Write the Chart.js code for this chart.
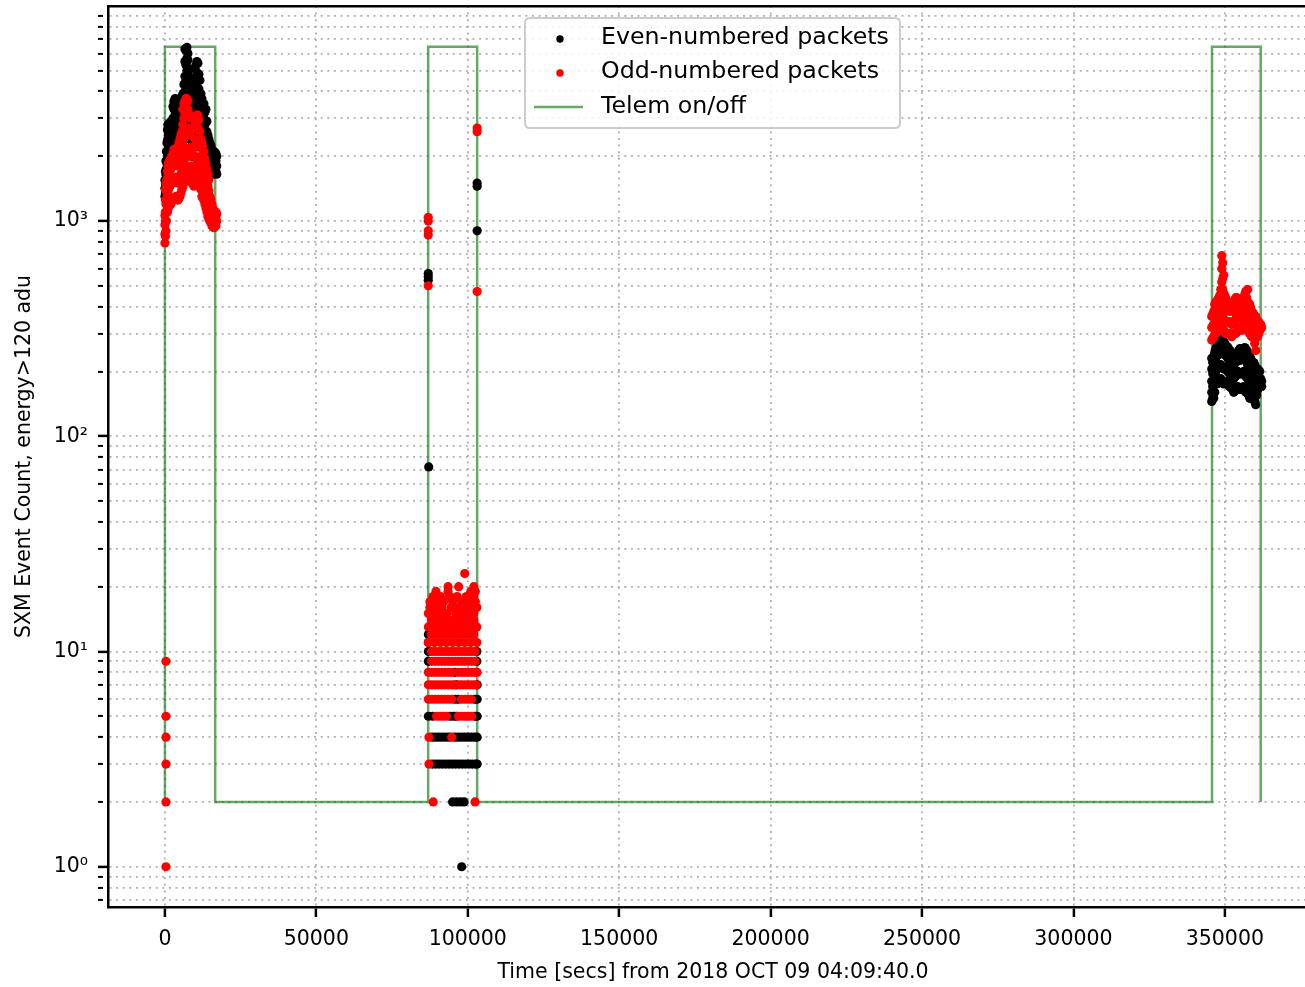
<!DOCTYPE html>
<html><head><meta charset="utf-8">
<script src="https://cdn.jsdelivr.net/npm/chart.js@4.4.1/dist/chart.umd.min.js"></script>
<style>html,body{margin:0;padding:0;background:#fff;overflow:hidden;width:1305px;height:987px}canvas{display:block}</style>
</head><body>
<canvas id="c" width="1305" height="987" style="width:1305px;height:987px"></canvas>
<script>
// ---------------- DATA ----------------
const xTitle = 'Time [secs] from 2018 OCT 09 04:09:40.0';
const yTitle = 'SXM Event Count, energy>120 adu';
const seriesLabels = ['Even-numbered packets', 'Odd-numbered packets', 'Telem on/off'];

const xTickValues = [0, 50000, 100000, 150000, 200000, 250000, 300000, 350000];
const yMajorTicks = [1, 10, 100, 1000];
const yMajorLabels = ['10⁰', '10¹', '10²', '10³'];
const yMinorTicks = [0.7, 0.8, 0.9, 2, 3, 4, 5, 6, 7, 8, 9, 20, 30, 40, 50, 60, 70, 80, 90,
  200, 300, 400, 500, 600, 700, 800, 900, 2000, 3000, 4000, 5000, 6000, 7000, 8000, 9000];

// Telemetry on/off step trace
const telemTime  = [0, 0, 16600, 16600, 86930, 86930, 103100, 103100, 345760, 345760, 361840, 361840];
const telemLevel = [2, 6450, 6450, 2, 2, 6450, 6450, 2, 2, 6450, 6450, 2];

// Even-numbered packets (black) [time, count]
const evenBurst1 = [
  [0,1300],[0,1420],[0,1550],[165,1350],[165,1500],[165,1700],
  [330,1450],[330,1650],[330,1900],[495,1500],[495,1750],[495,2100],
  [660,1550],[660,1850],[660,2300],[825,1650],[825,1950],[825,2350],[825,2650],
  [990,1700],[990,2000],[990,2400],[990,2800],[1155,1750],[1155,2100],[1155,2500],[1155,2800],
  [1320,1750],[1320,2200],[1320,2750],[1485,1800],[1485,2150],[1485,2550],[1485,2850],
  [1650,1800],[1650,2400],[1650,2750],[1980,1950],[1980,2300],[1980,2650],[1980,2900],
  [2310,2100],[2310,2500],[2310,2850],[2640,2200],[2640,2600],[2640,3000],[2640,3400],
  [2970,2300],[2970,2800],[2970,3300],[2970,3600],[3300,2350],[3300,2650],[3300,3100],[3300,3500],[3300,3700],
  [3630,2400],[3630,2900],[3630,3400],[3630,3650],[3960,2450],[3960,2750],[3960,3200],[3960,3600],
  [4290,2500],[4290,3000],[4290,3500],[4620,2550],[4620,2850],[4620,3300],[4620,3650],
  [4950,2600],[4950,3100],[4950,3550],[5280,2700],[5280,3000],[5280,3450],[5280,3750],
  [5610,2800],[5610,3300],[5610,3700],[5940,2900],[5940,3300],[5940,3900],
  [6270,3000],[6270,3600],[6270,4300],[6600,3100],[6600,3500],[6600,4000],[6600,4700],[6600,5500],[6600,6300],
  [6930,3200],[6930,3800],[6930,4500],[6930,5300],[6930,6200],
  [7260,3300],[7260,3700],[7260,4200],[7260,5000],[7260,5700],[7260,6400],
  [7590,3400],[7590,4000],[7590,4800],[7590,5600],[7590,6000],
  [7920,3300],[7920,3800],[7920,4400],[7920,5100],
  [8250,2400],[8250,3300],[8250,3900],[8250,4400],[8580,2200],[8580,2800],[8580,3500],[8580,4100],
  [8910,2000],[8910,2500],[8910,3100],[8910,3600],[8910,4000],
  [9240,2000],[9240,2400],[9240,2900],[9240,3500],[9240,4300],
  [9570,2000],[9570,2500],[9570,2900],[9570,3400],[9570,4000],[9570,4600],
  [9900,2300],[9900,2800],[9900,3300],[9900,3800],[9900,4500],[9900,5100],
  [10230,2800],[10230,3300],[10230,3900],[10230,4600],[10230,5300],
  [10560,2700],[10560,3100],[10560,3600],[10560,4200],[10560,4900],[10560,5500],
  [10890,2700],[10890,3200],[10890,3800],[10890,4500],[10890,5400],
  [11220,2600],[11220,3000],[11220,3500],[11220,4100],[11220,4800],
  [11550,2500],[11550,3000],[11550,3600],[11550,4500],[11880,2400],[11880,2800],[11880,3300],[11880,3900],
  [12210,2300],[12210,2800],[12210,3300],[12210,3700],[12540,2200],[12540,2600],[12540,3000],[12540,3400],
  [12870,2100],[12870,2500],[12870,3000],[12870,3500],[13200,2050],[13200,2400],[13200,2800],[13200,3200],
  [13530,2000],[13530,2400],[13530,2900],[13530,3300],[13860,1950],[13860,2250],[13860,2600],[13860,2900],
  [14190,1900],[14190,2200],[14190,2500],[14520,1850],[14520,2100],[14520,2400],
  [14850,1800],[14850,2050],[14850,2300],[15180,1750],[15180,2000],[15180,2250],
  [15510,1700],[15510,1950],[15510,2150],[15840,1680],[15840,1900],[15840,2120],
  [16180,1650],[16180,1850],[16180,2100],[16510,1680],[16510,1880],[16510,2080],
  [16840,1700],[16840,1900],[16840,2050],[17100,1650],[17100,1800],[17100,2000]
];
const evenBurst2 = [
  [86950,570],[86950,550],[86950,530],[87100,72],[103100,1500],[103100,1450],[103100,900],
  [98000,1],
  [95000,2],[96300,2],[97600,2],[98800,2],
  [88300,3],[89400,3],[90500,3],[91600,3],[92700,3],[93800,3],[94900,3],[96000,3],[97100,3],
  [98200,3],[99300,3],[100400,3],[101500,3],[102600,3],[103100,3],
  [88300,4],[89400,4],[90500,4],[91600,4],[92700,4],[93800,4],[95700,4],[96800,4],[97900,4],
  [99000,4],[100100,4],[101200,4],[102300,4],[103100,4],
  [87000,5],[88400,5],[94200,5],[95300,5],[96200,5],[102400,5],[103100,5],
  [95800,6],[96900,6],[102300,6],[103100,6],
  [96300,7],[103100,7],[95800,8],
  [87000,9],[103000,9],[87000,10],[103000,10],[87000,11],[87000,12]
];
const evenBurst3 = [
  [345670,145],[345670,160],[345670,180],[345670,205],[345670,230],
  [346000,150],[346000,170],[346000,195],[346000,220],
  [346330,150],[346330,175],[346330,200],[346330,235],
  [346660,160],[346660,185],[346660,215],[346660,245],
  [347000,175],[347000,200],[347000,230],[347000,255],
  [347330,175],[347330,205],[347330,235],[347330,260],
  [347660,180],[347660,210],[347660,240],[347660,265],
  [347990,180],[347990,210],[347990,245],[347990,270],
  [348320,185],[348320,215],[348320,250],[348320,270],
  [348650,185],[348650,215],[348650,250],[348650,280],
  [348980,180],[348980,210],[348980,245],[348980,285],
  [349310,178],[349310,208],[349310,242],[349310,280],
  [349640,175],[349640,205],[349640,240],[349640,275],
  [349970,178],[349970,208],[349970,242],[349970,270],
  [350300,180],[350300,210],[350300,245],
  [350630,178],[350630,205],[350630,235],[350630,255],
  [350960,175],[350960,200],[350960,230],[350960,260],
  [351290,172],[351290,198],[351290,228],[351290,255],
  [351620,170],[351620,195],[351620,225],[351620,250],
  [351950,168],[351950,195],[351950,225],[351950,248],
  [352280,170],[352280,200],[352280,230],
  [352610,165],[352610,192],[352610,222],[352610,235],
  [352940,160],[352940,185],[352940,215],[352940,240],
  [353270,162],[353270,188],[353270,218],[353270,238],
  [353600,165],[353600,190],[353600,220],
  [353930,165],[353930,195],[353930,225],
  [354260,170],[354260,200],[354260,235],
  [354590,168],[354590,198],[354590,230],[354590,250],
  [354920,165],[354920,195],[354920,225],[354920,255],
  [355250,165],[355250,195],[355250,228],[355250,252],
  [355580,165],[355580,195],[355580,230],
  [355910,168],[355910,198],[355910,232],[355910,255],
  [356240,170],[356240,200],[356240,235],[356240,255],
  [356570,165],[356570,195],[356570,228],[356570,258],
  [356900,160],[356900,190],[356900,225],[356900,255],
  [357230,160],[357230,188],[357230,220],[357230,250],
  [357560,160],[357560,185],[357560,215],[357560,245],
  [357890,155],[357890,180],[357890,210],[357890,240],
  [358220,150],[358220,175],[358220,205],[358220,235],
  [358550,152],[358550,178],[358550,208],[358550,230],
  [358880,155],[358880,180],[358880,210],
  [359210,152],[359210,175],[359210,200],[359210,215],
  [359540,150],[359540,170],[359540,195],[359540,220],
  [359870,145],[359870,168],[359870,192],[359870,215],
  [360200,140],[360200,165],[360200,190],
  [360530,155],[360530,175],[360530,198],
  [360860,165],[360860,185],[360860,205],
  [361190,168],[361190,185],[361190,202],
  [361520,170],[361520,185],[361520,200],
  [361850,170],[361850,185],[362170,170],[362170,180]
];

// Odd-numbered packets (red) [time, count]
const oddStart = [[330,9],[330,5],[330,4],[330,3],[330,2],[330,1]];
const oddBurst1 = [
  [0,790],[0,870],[0,960],[0,1060],[165,850],[165,1000],[165,1100],[165,1250],[165,1400],
  [330,900],[330,1200],[330,1500],[495,1000],[495,1250],[495,1450],
  [660,1100],[660,1350],[660,1550],[825,1100],[825,1300],[825,1550],[825,1700],
  [990,1150],[990,1350],[990,1600],[990,1800],[1155,1150],[1155,1400],[1155,1650],[1155,1850],
  [1320,1200],[1320,1500],[1320,1850],[1485,1200],[1485,1450],[1485,1750],[1485,1900],
  [1650,1200],[1650,1450],[1650,1700],[1650,1900],[1980,1200],[1980,1500],[1980,1750],[1980,1950],
  [2310,1250],[2310,1500],[2310,1800],[2310,2000],[2640,1250],[2640,1500],[2640,1800],[2640,2050],
  [2970,1250],[2970,1550],[2970,1900],[2970,2150],[3300,1280],[3300,1550],[3300,1850],[3300,2150],
  [3630,1300],[3630,1600],[3630,1900],[3630,2150],[3960,1280],[3960,1550],[3960,1850],[3960,2150],
  [4290,1250],[4290,1500],[4290,1800],[4290,2200],[4620,1270],[4620,1550],[4620,1850],[4620,2300],
  [4950,1300],[4950,1600],[4950,1950],[4950,2400],[5280,1350],[5280,1650],[5280,2000],[5280,2500],
  [5610,1400],[5610,1700],[5610,2100],[5610,2600],[5940,1450],[5940,1800],[5940,2250],[5940,2800],[5940,3300],
  [6270,1500],[6270,1900],[6270,2400],[6270,3000],[6270,3500],
  [6600,1550],[6600,1950],[6600,2500],[6600,3100],[6600,3600],
  [6930,1600],[6930,2000],[6930,2600],[6930,3200],[6930,3700],
  [7260,1650],[7260,2050],[7260,2650],[7260,3250],[7260,3700],
  [7590,1700],[7590,2100],[7590,2700],[7590,3300],[7590,3600],
  [7920,1700],[7920,2050],[7920,2600],[7920,3150],
  [8250,1650],[8250,2000],[8250,2500],[8250,3000],[8580,1550],[8580,1800],[8580,2200],[8580,2600],
  [8910,1500],[8910,1650],[8910,1800],[9240,1480],[9240,1650],[9570,1450],[9570,1600],[9570,1750],
  [9900,1480],[9900,1700],[9900,2000],[9900,2400],[9900,2800],
  [10230,1500],[10230,1800],[10230,2200],[10230,2700],[10230,3000],
  [10560,1550],[10560,1850],[10560,2250],[10560,2700],[10560,3100],
  [10890,1600],[10890,1900],[10890,2300],[10890,2700],[10890,3100],
  [11220,1550],[11220,1850],[11220,2250],[11220,2650],[11220,2950],
  [11550,1500],[11550,1800],[11550,2200],[11550,2600],[11880,1400],[11880,1700],[11880,2000],[11880,2400],
  [12210,1300],[12210,1600],[12210,1900],[12210,2300],[12540,1280],[12540,1550],[12540,1850],[12540,2200],
  [12870,1250],[12870,1500],[12870,1800],[12870,2100],[13200,1200],[13200,1420],[13200,1700],[13200,1950],
  [13530,1150],[13530,1350],[13530,1600],[13530,1850],[13860,1100],[13860,1300],[13860,1520],[13860,1750],
  [14190,1050],[14190,1250],[14190,1450],[14190,1650],[14520,1020],[14520,1200],[14520,1380],[14520,1550],
  [14850,1000],[14850,1150],[14850,1300],[15180,980],[15180,1100],[15180,1250],
  [15510,950],[15510,1050],[15510,1200],[15840,940],[15840,1020],[15840,1150],
  [16180,930],[16180,1000],[16180,1100],[16510,940],[16510,1030],[16510,1100],
  [16840,950],[16840,1050],[16840,1100],[17100,1000],[17100,1080]
];
const oddBurst2 = [
  [86950,1040],[86950,1000],[86950,900],[86950,860],[86950,500],
  [103100,2700],[103100,2600],[103100,470],
  [88600,2],[102400,2],[87200,3],[87200,4],[94700,4],
  [89700,5],[90800,5],[91900,5],[93000,5],[96900,5],[98000,5],[99100,5],[100200,5],[101300,5],
  [87000,6],[88100,6],[89200,6],[90300,6],[91400,6],[92500,6],[93600,6],[94700,6],
  [97900,6],[99000,6],[100100,6],[101200,6],
  [87000,7],[88100,7],[89200,7],[90300,7],[91400,7],[92500,7],[93600,7],[94700,7],[95700,7],
  [97400,7],[98400,7],[99500,7],[100600,7],[101700,7],[102800,7],
  [87000,8],[88100,8],[89200,8],[90300,8],[91400,8],[92500,8],[93600,8],[94700,8],
  [96900,8],[98000,8],[99100,8],[100200,8],[101300,8],[102400,8],[103100,8],
  [88100,9],[89200,9],[90300,9],[91400,9],[92500,9],[93600,9],[94700,9],[95800,9],
  [96900,9],[98000,9],[99100,9],[100200,9],[101300,9],[102400,9],
  [88100,10],[89200,10],[90300,10],[91400,10],[92500,10],[93600,10],[94700,10],[95800,10],
  [96900,10],[98000,10],[99100,10],[100200,10],[101300,10],[102400,10],
  [87000,11],[89000,11],[91000,11],[93000,11],[95000,11],[97000,11],[99000,11],[101000,11],[103000,11],
  [88000,12],[90000,12],[92000,12],[94000,12],[96000,12],[98000,12],[100000,12],[102000,12],
  [87000,13],[89000,13],[91000,13],[93000,13],[95000,13],[97000,13],[99000,13],[101000,13],[103000,13],
  [88000,14],[90000,14],[92000,14],[94000,14],[96000,14],[98000,14],[100000,14],[102000,14],
  [87000,15],[89000,15],[91000,15],[93000,15],[96000,15],[98000,15],[100000,15],[102000,15],
  [87500,16],[89500,16],[91500,16],[94500,16],[97000,16],[99500,16],[101500,16],[103000,16],
  [87500,17],[90000,17],[92000,17],[95000,17],[98000,17],[100500,17],[102500,17],
  [88500,18],[91000,18],[94000,18],[96500,18],[99500,18],[102000,18],
  [89500,19],[93500,19],[101000,19],[102500,19],
  [93500,20],[97000,20],[102000,20],[99000,23]
];
const oddBurst3 = [
  [345670,280],[345670,320],[345670,360],[346000,285],[346000,325],[346000,370],
  [346330,290],[346330,330],[346330,380],[346660,295],[346660,335],[346660,385],[346660,410],
  [347000,300],[347000,340],[347000,390],[347000,420],[347330,305],[347330,345],[347330,395],[347330,425],
  [347660,310],[347660,350],[347660,400],[347660,430],[347990,315],[347990,355],[347990,405],[347990,440],
  [348320,320],[348320,360],[348320,410],[348320,450],[348650,325],[348650,370],[348650,430],[348650,480],
  [348980,330],[348980,380],[348980,450],[348980,520],[348980,600],[348980,690],
  [349310,320],[349310,365],[349310,420],[349310,480],[349310,540],[349310,640],
  [349640,310],[349640,350],[349640,400],[349640,460],[349640,560],
  [349970,305],[349970,345],[349970,395],[349970,450],
  [350300,300],[350300,340],[350300,390],[350300,440],[350630,300],[350630,340],[350630,390],[350630,420],
  [350960,300],[350960,340],[350960,390],[351290,300],[351290,340],[351290,385],
  [351620,300],[351620,340],[351620,380],[351950,295],[351950,335],[351950,380],
  [352280,290],[352280,330],[352280,380],[352610,295],[352610,335],[352610,385],[352610,410],
  [352940,300],[352940,340],[352940,390],[352940,420],[353270,300],[353270,345],[353270,395],[353270,430],
  [353600,300],[353600,350],[353600,400],[353600,440],[353930,305],[353930,355],[353930,410],[353930,440],
  [354260,310],[354260,360],[354260,420],[354590,315],[354590,365],[354590,425],
  [354920,320],[354920,370],[354920,430],[355250,315],[355250,360],[355250,410],
  [355580,310],[355580,350],[355580,400],[355910,315],[355910,360],[355910,420],
  [356240,320],[356240,370],[356240,440],[356570,325],[356570,380],[356570,455],
  [356900,330],[356900,390],[356900,470],[357230,320],[357230,375],[357230,440],
  [357560,310],[357560,360],[357560,420],[357560,480],[357890,305],[357890,355],[357890,415],
  [358220,300],[358220,350],[358220,410],[358550,295],[358550,340],[358550,395],
  [358880,290],[358880,330],[358880,380],[359210,290],[359210,325],[359210,375],
  [359540,290],[359540,320],[359540,370],[359870,270],[359870,305],[359870,350],
  [360200,250],[360200,290],[360200,330],[360200,360],[360530,290],[360530,320],[360530,345],
  [360860,290],[360860,320],[360860,340],[361190,300],[361190,325],[361190,340],
  [361520,310],[361520,330],[361850,315],[361850,330],[362170,320]
];

// ---------------- CHART ----------------
const FONT = "'DejaVu Sans', 'Liberation Sans', sans-serif";
const AXIS_FONT = 20.5, LEGEND_FONT = 23.7;
Chart.defaults.font.family = FONT;
const toPts = arr => arr.map(p => ({x: p[0], y: p[1]}));
const isMajor = v => yMajorTicks.some(m => Math.abs(v / m - 1) < 1e-6);
const majorLabel = v => { const i = yMajorTicks.findIndex(m => Math.abs(v / m - 1) < 1e-6); return i >= 0 ? yMajorLabels[i] : ''; };
const zeroPad = s => { s.paddingTop = 0; s.paddingBottom = 0; s.paddingLeft = 0; s.paddingRight = 0; };

const evenColor = '#000000', oddColor = '#ff0000', telemColor = 'rgba(0,110,0,0.6)';
const DOT = 4.6;

// The original axes box continues ~12px past the right edge of the picture;
// extend the x-axis boxes so the axis title is centred on the full axes width.
const fullAxesWidth = {
  id: 'fullAxesWidth',
  afterLayout(chart) {
    ['x', 'xTop'].forEach(id => { const s = chart.scales[id]; s.right = s.left + 1210; s.width = 1210; });
  }
};

const boxLegend = {
  id: 'boxLegend',
  afterDraw(chart) {
    const ctx = chart.ctx;
    const bx = 525, by = 18, bw = 375, bh = 110, r = 5;
    ctx.save();
    ctx.beginPath();
    ctx.moveTo(bx + r, by); ctx.lineTo(bx + bw - r, by); ctx.quadraticCurveTo(bx + bw, by, bx + bw, by + r);
    ctx.lineTo(bx + bw, by + bh - r); ctx.quadraticCurveTo(bx + bw, by + bh, bx + bw - r, by + bh);
    ctx.lineTo(bx + r, by + bh); ctx.quadraticCurveTo(bx, by + bh, bx, by + bh - r);
    ctx.lineTo(bx, by + r); ctx.quadraticCurveTo(bx, by, bx + r, by);
    ctx.closePath();
    ctx.fillStyle = 'rgba(255,255,255,0.85)'; ctx.fill();
    ctx.strokeStyle = '#cccccc'; ctx.lineWidth = 2; ctx.stroke();
    const ds = chart.data.datasets;
    const rows = [38, 72, 107];
    ctx.font = LEGEND_FONT + 'px ' + FONT; ctx.textBaseline = 'middle'; ctx.textAlign = 'left';
    for (let i = 0; i < 3; i++) {
      const y = rows[i];
      if (i < 2) {
        ctx.beginPath(); ctx.arc(560, y + 1, 3.7, 0, Math.PI * 2);
        ctx.fillStyle = ds[i].backgroundColor; ctx.fill();
      } else {
        ctx.beginPath(); ctx.moveTo(534, y); ctx.lineTo(583, y);
        ctx.strokeStyle = ds[i].borderColor; ctx.lineWidth = 2.5; ctx.stroke();
      }
      ctx.fillStyle = '#000';
      ctx.fillText(ds[i].label, 601, y);
    }
    ctx.restore();
  }
};

const gridCommon = { color: '#b0b0b0', lineWidth: 1.8, tickColor: '#000', tickLength: 10 };

new Chart(document.getElementById('c'), {
  type: 'scatter',
  data: {
    datasets: [
      { label: seriesLabels[0], data: toPts([...evenBurst1, ...evenBurst2, ...evenBurst3]),
        backgroundColor: evenColor, borderColor: evenColor, borderWidth: 0,
        pointRadius: DOT, pointHoverRadius: DOT, order: 1, xAxisID: 'x', yAxisID: 'y' },
      { label: seriesLabels[1], data: toPts([...oddStart, ...oddBurst1, ...oddBurst2, ...oddBurst3]),
        backgroundColor: oddColor, borderColor: oddColor, borderWidth: 0,
        pointRadius: DOT, pointHoverRadius: DOT, order: 0, xAxisID: 'x', yAxisID: 'y' },
      { label: seriesLabels[2], data: telemTime.map((t, i) => ({x: t, y: telemLevel[i]})),
        showLine: true, borderColor: telemColor, backgroundColor: telemColor, borderWidth: 2.5,
        pointRadius: 0, pointHoverRadius: 0, tension: 0, fill: false, order: 2, xAxisID: 'x', yAxisID: 'y' }
    ]
  },
  options: {
    responsive: false, animation: false, events: [],
    layout: { autoPadding: false, padding: { left: 0, top: 6, right: 0, bottom: 0 } },
    plugins: { legend: { display: false }, tooltip: { enabled: false } },
    scales: {
      x: {
        type: 'linear', position: 'bottom', min: -18800, max: 376470,
        afterBuildTicks: s => { s.ticks = xTickValues.map(v => ({ value: v })); },
        afterFit: s => { s.height = 80; zeroPad(s); },
        ticks: { autoSkip: false, maxRotation: 0, padding: 10, color: '#000',
                 font: { family: FONT, size: AXIS_FONT }, callback: v => String(v) },
        grid: { ...gridCommon, tickWidth: 2.5 },
        border: { display: true, color: '#000', width: 2.5, dash: [2, 4.6] },
        title: { display: true, text: xTitle, color: '#000', font: { family: FONT, size: AXIS_FONT },
                 padding: { top: 0, bottom: 2 } }
      },
      xTop: {
        type: 'linear', position: 'top', min: -18800, max: 376470,
        afterFit: s => { s.height = 0; zeroPad(s); },
        ticks: { display: false },
        grid: { display: false, drawOnChartArea: false, drawTicks: false },
        border: { display: true, color: '#000', width: 2.5 }
      },
      y: {
        type: 'logarithmic', position: 'left', min: 0.65, max: 9970,
        afterBuildTicks: s => { s.ticks = [...yMajorTicks, ...yMinorTicks].sort((a, b) => a - b).map(v => ({ value: v })); },
        afterFit: s => { s.width = 108; zeroPad(s); },
        ticks: { autoSkip: false, padding: 10, color: '#000', font: { family: FONT, size: AXIS_FONT },
                 callback: v => majorLabel(v) },
        grid: { ...gridCommon,
                tickWidth: c => (c.tick && isMajor(c.tick.value)) ? 2.5 : 2,
                tickBorderDash: c => (c.tick && isMajor(c.tick.value)) ? [] : [5, 60] },
        border: { display: true, color: '#000', width: 2.5, dash: [2, 4.6] },
        title: { display: true, text: yTitle, color: '#000', font: { family: FONT, size: AXIS_FONT },
                 padding: { top: 12, bottom: 0 } }
      }
    }
  },
  plugins: [fullAxesWidth, boxLegend]
});
</script>
</body></html>
